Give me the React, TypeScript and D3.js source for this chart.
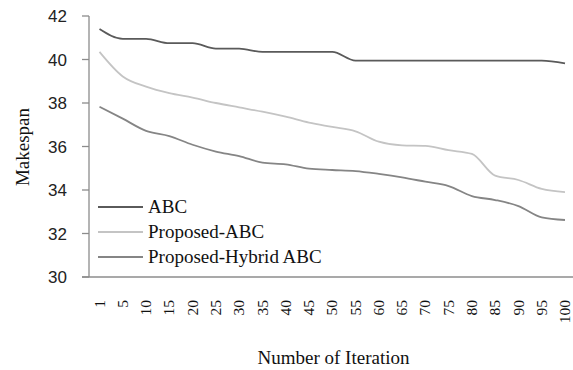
import React from "react";
import * as d3 from "d3";

const iterations = ["1", "5", "10", "15", "20", "25", "30", "35", "40", "45", "50", "55", "60", "65", "70", "75", "80", "85", "90", "95", "100"];

const abc = [41.4, 40.95, 40.95, 40.75, 40.75, 40.5, 40.5, 40.35, 40.35, 40.35, 40.35, 39.95, 39.95, 39.95, 39.95, 39.95, 39.95, 39.95, 39.95, 39.95, 39.82];
const proposedAbc = [40.35, 39.22, 38.75, 38.45, 38.25, 38.0, 37.8, 37.6, 37.37, 37.1, 36.9, 36.7, 36.22, 36.05, 36.03, 35.83, 35.66, 34.66, 34.46, 34.05, 33.9];
const proposedHybrid = [37.83, 37.28, 36.72, 36.48, 36.08, 35.77, 35.56, 35.26, 35.18, 34.98, 34.92, 34.87, 34.74, 34.58, 34.38, 34.18, 33.72, 33.54, 33.26, 32.74, 32.62];

const yTicks = [30, 32, 34, 36, 38, 40, 42];

const series = [
  { name: "ABC", values: abc, color: "#5a5a5a" },
  { name: "Proposed-ABC", values: proposedAbc, color: "#c4c4c4" },
  { name: "Proposed-Hybrid ABC", values: proposedHybrid, color: "#858585" },
];

const W = 573;
const H = 370;
const axisColor = "#8c8c8c";
const serif = "'Liberation Serif', 'Times New Roman', serif";
const sans = "'Liberation Sans', Arial, sans-serif";

export default function App() {
  const x = d3.scalePoint<string>().domain(iterations).range([99.5, 565]);
  const y = d3.scaleLinear().domain([30, 42]).range([277, 16]);
  const line = d3
    .line<number>()
    .x((_, i) => x(iterations[i]) as number)
    .y((d) => y(d))
    .curve(d3.curveMonotoneX);

  const axisLeft = 89;
  const axisBottom = y(30);

  return (
    <svg
      width={W}
      height={H}
      style={{ position: "absolute", left: 0, top: 0, display: "block", background: "#fff" }}
    >
      {/* y axis */}
      <line x1={axisLeft} x2={axisLeft} y1={y(42)} y2={axisBottom} stroke={axisColor} strokeWidth={1.3} />
      {yTicks.map((t) => (
        <g key={t}>
          <line x1={axisLeft - 7} x2={axisLeft} y1={y(t)} y2={y(t)} stroke={axisColor} strokeWidth={1.3} />
          <text
            x={67}
            y={y(t)}
            dy="0.36em"
            textAnchor="end"
            fontFamily={sans}
            fontSize={17}
            fill="#222"
          >
            {t}
          </text>
        </g>
      ))}

      {/* x axis */}
      <line x1={axisLeft - 7} x2={W} y1={axisBottom} y2={axisBottom} stroke={axisColor} strokeWidth={1.3} />
      {iterations.map((it) => (
        <text
          key={it}
          transform={`translate(${x(it)},300) rotate(-90)`}
          dy="0.33em"
          textAnchor="end"
          fontFamily={serif}
          fontSize={15.5}
          fill="#111"
        >
          {it}
        </text>
      ))}

      {/* series */}
      {series.map((s) => (
        <path key={s.name} d={line(s.values) ?? ""} fill="none" stroke={s.color} strokeWidth={1.8} />
      ))}

      {/* legend */}
      {series.map((s, i) => {
        const ly = 207 + i * 25;
        return (
          <g key={s.name}>
            <line x1={98} x2={143} y1={ly} y2={ly} stroke={s.color} strokeWidth={1.8} />
            <text x={148} y={ly} dy="0.33em" fontFamily={serif} fontSize={19} fill="#111">
              {s.name}
            </text>
          </g>
        );
      })}

      {/* axis titles */}
      <text
        transform="translate(22,147) rotate(-90)"
        dy="0.35em"
        textAnchor="middle"
        fontFamily={serif}
        fontSize={19}
        fill="#111"
      >
        Makespan
      </text>
      <text x={333.5} y={364} textAnchor="middle" fontFamily={serif} fontSize={19} fill="#111">
        Number of Iteration
      </text>
    </svg>
  );
}
